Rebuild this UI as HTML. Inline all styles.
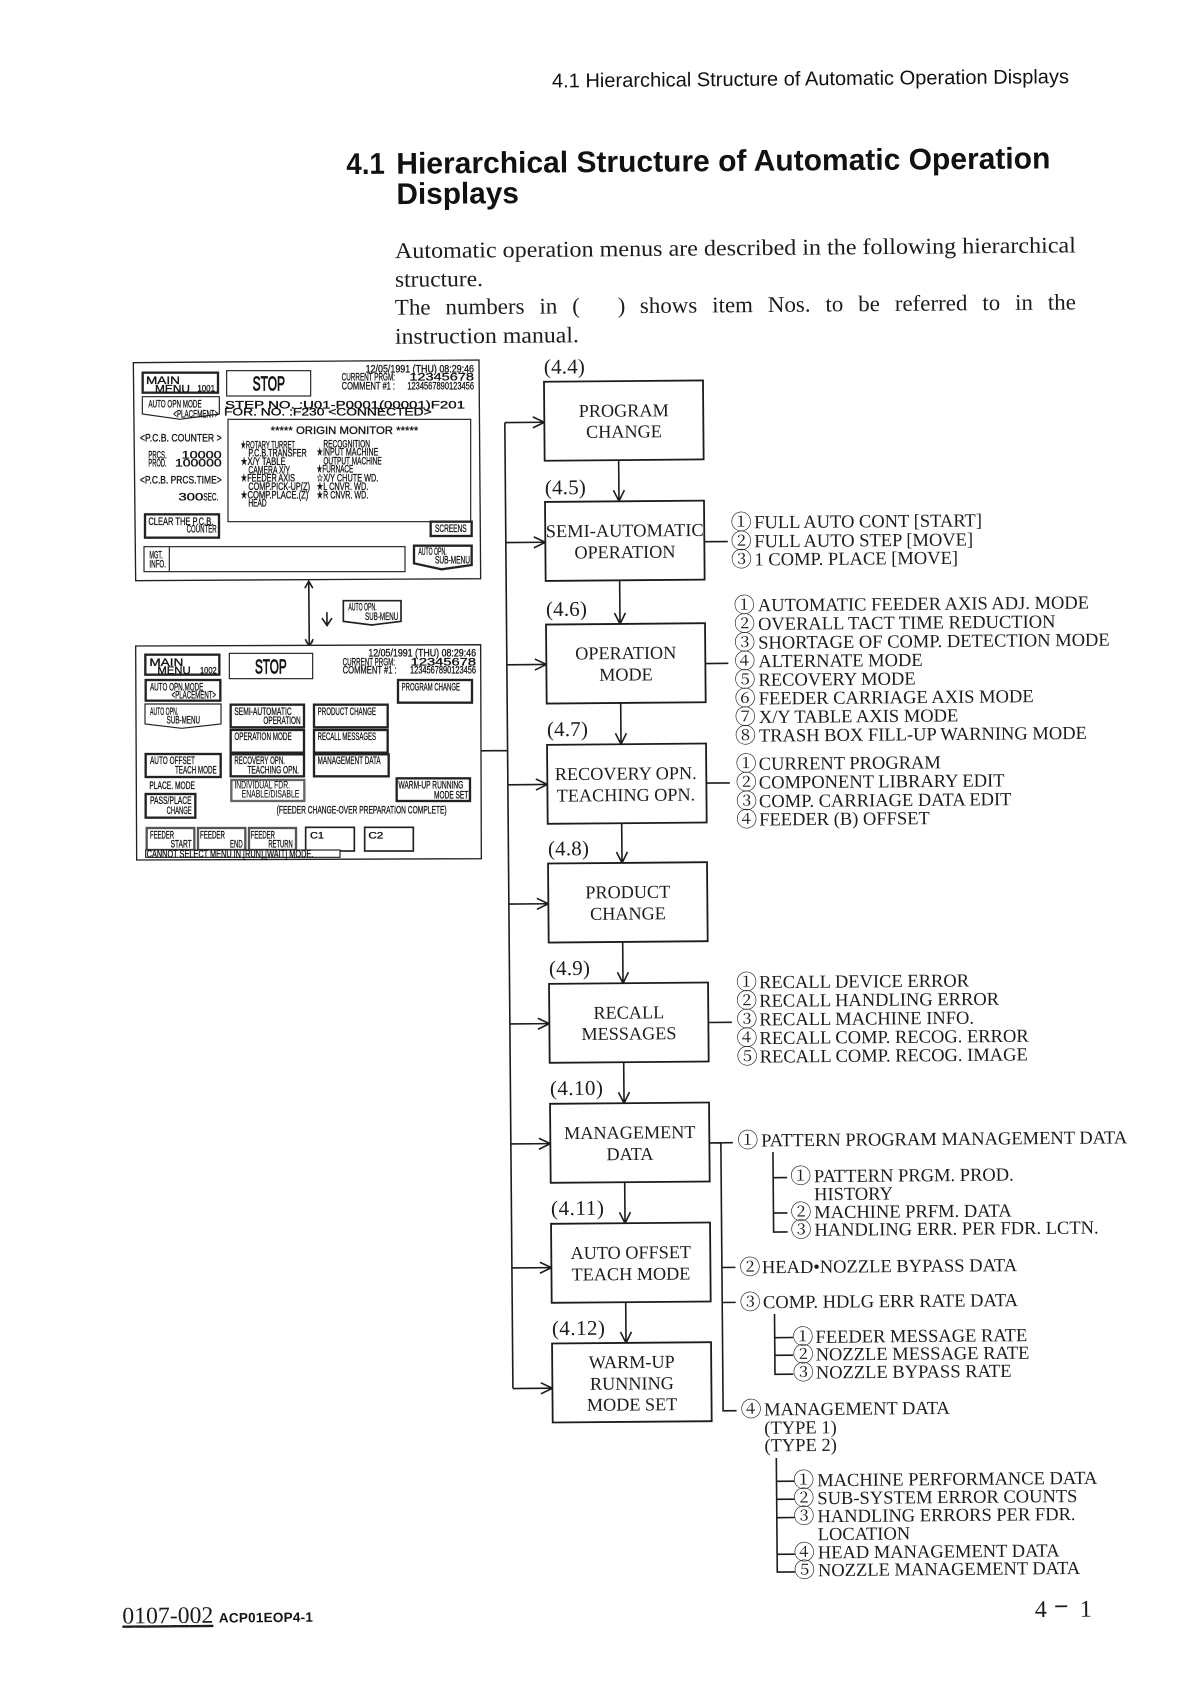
<!DOCTYPE html>
<html><head><meta charset="utf-8"><title>4.1 Hierarchical Structure of Automatic Operation Displays</title>
<style>
html,body{margin:0;padding:0;background:#fff}
svg{display:block}
.s{font-family:"Liberation Serif","Noto Serif CJK SC",serif;font-size:18.5px;fill:#1c1c1c}
.c{font-family:"Noto Serif CJK SC","Liberation Serif",serif;font-size:21px;fill:#1c1c1c;transform:translate(-1.5px,1px)}
.m{text-anchor:middle;font-size:18.2px}
.l{font-family:"Liberation Serif",serif;font-size:21px;fill:#1c1c1c}
.body{font-family:"Liberation Serif",serif;font-size:22.5px;fill:#1c1c1c}
.h{font-family:"Liberation Sans",sans-serif;fill:#111}
.ln{stroke:#1c1c1c;stroke-width:1.6;fill:none}
.box{stroke:#1c1c1c;stroke-width:1.8;fill:#fff}
.p{font-family:"Liberation Sans","DejaVu Sans",sans-serif;font-size:33px;fill:#111;stroke:#111;stroke-width:.9}
.w{font-size:27px}
.b{fill:#fff;stroke:#222;stroke-width:7}
.n{fill:#fff;stroke:#222;stroke-width:3.5}
</style></head><body>
<svg xmlns="http://www.w3.org/2000/svg" width="1190" height="1682" viewBox="0 0 1190 1682">
<rect width="1190" height="1682" fill="#fff"/>
<g transform="translate(0 .8) rotate(-0.48 600 800)">
<text class="h" x="558" y="86.3" font-size="20" textLength="517" lengthAdjust="spacingAndGlyphs">4.1 Hierarchical Structure of Automatic Operation Displays</text>
<text class="h" x="351.7" y="171.2" font-size="30" font-weight="bold" textLength="38.5" lengthAdjust="spacingAndGlyphs">4.1</text>
<text class="h" x="401.7" y="171.3" font-size="30" font-weight="bold" textLength="654" lengthAdjust="spacingAndGlyphs">Hierarchical Structure of Automatic Operation</text>
<text class="h" x="401.5" y="201.6" font-size="30" font-weight="bold" textLength="122.5" lengthAdjust="spacingAndGlyphs">Displays</text>
<text class="body" x="399.5" y="255.6" textLength="681" lengthAdjust="spacingAndGlyphs">Automatic operation menus are described in the following hierarchical</text>
<text class="body" x="399.3" y="284.3" textLength="88" lengthAdjust="spacingAndGlyphs">structure.</text>
<text class="body" style="word-spacing:9px" x="399" y="312.3" textLength="185" lengthAdjust="spacingAndGlyphs">The numbers in (</text>
<text class="body" x="622" y="312.4">)</text>
<text class="body" style="word-spacing:9px" x="644" y="312.6" textLength="436" lengthAdjust="spacingAndGlyphs">shows item Nos. to be referred to in the</text>
<text class="body" x="398.8" y="341.3" textLength="184" lengthAdjust="spacingAndGlyphs">instruction manual.</text>

<!-- trunk -->
<path class="ln" d="M481.4 749H508M508 421V1387M508 421H547M508 541H547M508 663.2H547M508 783.2H547M508 902.5H547M508 1022.4H547M508 1142.4H547M508 1266.4H547M508 1387H547"/>
<path class="ln" d="M536 415.5L547.5 421L536 426.5M536 535.5L547.5 541L536 546.5M536 657.7L547.5 663.2L536 668.7M536 777.7L547.5 783.2L536 788.7M536 897L547.5 902.5L536 908M536 1016.9L547.5 1022.4L536 1027.9M536 1136.9L547.5 1142.4L536 1147.9M536 1260.9L547.5 1266.4L536 1271.9M536 1381.5L547.5 1387L536 1392.5"/>
<!-- down arrows -->
<path class="ln" d="M621.5 459.5V500.5M616 489.5L621.5 500.5L627 489.5M621.5 579.7V623.3M616 612.3L621.5 623.3L627 612.3M621.5 702.3V743.6M616 732.6L621.5 743.6L627 732.6M621.5 822.6V862.3M616 851.3L621.5 862.3L627 851.3M621.5 941.3V982.6M616 971.6L621.5 982.6L627 971.6M621.5 1061.6V1102.6M616 1091.6L621.5 1102.6L627 1091.6M621.5 1181.6V1222.6M616 1211.6L621.5 1222.6L627 1211.6M621.5 1301.6V1342.3M616 1331.3L621.5 1342.3L627 1331.3"/>
<!-- boxes -->
<rect class="box" x="547.5" y="380.5" width="159" height="79"/>
<rect class="box" x="547.5" y="500.7" width="159" height="79"/>
<rect class="box" x="547.5" y="623.3" width="159" height="79"/>
<rect class="box" x="547.5" y="743.6" width="159" height="79"/>
<rect class="box" x="547.5" y="862.3" width="159" height="79"/>
<rect class="box" x="547.5" y="982.6" width="159" height="79"/>
<rect class="box" x="547.5" y="1102.6" width="159" height="79"/>
<rect class="box" x="547.5" y="1222.6" width="159" height="79"/>
<rect class="box" x="547.5" y="1342.3" width="159" height="79"/>
<g>
<text class="s m" x="627" y="416">PROGRAM</text><text class="s m" x="627" y="437">CHANGE</text>
<text class="s m" x="627" y="536" textLength="158" lengthAdjust="spacingAndGlyphs">SEMI-AUTOMATIC</text><text class="s m" x="627" y="557.5">OPERATION</text>
<text class="s m" x="627" y="658.5">OPERATION</text><text class="s m" x="627" y="680">MODE</text>
<text class="s m" x="626" y="779">RECOVERY OPN.</text><text class="s m" x="626" y="800.5">TEACHING OPN.</text>
<text class="s m" x="627" y="897.5">PRODUCT</text><text class="s m" x="627" y="919">CHANGE</text>
<text class="s m" x="627" y="1018">RECALL</text><text class="s m" x="627" y="1039">MESSAGES</text>
<text class="s m" x="627" y="1138">MANAGEMENT</text><text class="s m" x="627" y="1159.5">DATA</text>
<text class="s m" x="627" y="1258">AUTO OFFSET</text><text class="s m" x="627" y="1279.5">TEACH MODE</text>
<text class="s m" x="627" y="1367.5">WARM-UP</text><text class="s m" x="627" y="1389">RUNNING</text><text class="s m" x="627" y="1410">MODE SET</text>
</g>
<text class="l" x="547.5" y="372.5" textLength="41">(4.4)</text>
<text class="l" x="547.5" y="493.2" textLength="41">(4.5)</text>
<text class="l" x="547.5" y="614.8" textLength="41">(4.6)</text>
<text class="l" x="547.5" y="735" textLength="41">(4.7)</text>
<text class="l" x="547.5" y="854.3" textLength="41">(4.8)</text>
<text class="l" x="547.5" y="974" textLength="41">(4.9)</text>
<text class="l" x="547.5" y="1094" textLength="53">(4.10)</text>
<text class="l" x="547.5" y="1214" textLength="53">(4.11)</text>
<text class="l" x="547.5" y="1334" textLength="53">(4.12)</text>

<!-- side connectors -->
<path class="ln" d="M706.5 541.8H730M706.5 663.6H729.5M706.5 783.2H730M706.5 1022.6H730M706.5 1143H730M718 1143V1411H731.5M718 1267.7H731.5M718 1302.7H731.5M770 1152.7V1232.7H784M770 1178.3H784M770 1213.7H784M770.2 1314.5V1375H788.5M770.2 1338.3H788.5M770.2 1356H788.5M770.8 1458.6V1572.7H788.5M770.8 1482H788.5M770.8 1500H788.5M770.8 1518.3H788.5M770.8 1555H788.5"/>

<!-- lists -->
<text class="c" x="734.5" y="528.8">①</text><text class="s" x="756.5" y="528.8">FULL AUTO CONT [START]</text>
<text class="c" x="734.5" y="547.8">②</text><text class="s" x="756.5" y="547.8">FULL AUTO STEP [MOVE]</text>
<text class="c" x="734.5" y="566">③</text><text class="s" x="756.5" y="566">1 COMP. PLACE [MOVE]</text>

<text class="c" x="737" y="611.8">①</text><text class="s" x="759.5" y="611.8">AUTOMATIC FEEDER AXIS ADJ. MODE</text>
<text class="c" x="737" y="630.5">②</text><text class="s" x="759.5" y="630.5">OVERALL TACT TIME REDUCTION</text>
<text class="c" x="737" y="649.2">③</text><text class="s" x="759.5" y="649.2">SHORTAGE OF COMP. DETECTION MODE</text>
<text class="c" x="737" y="667.8">④</text><text class="s" x="759.5" y="667.8">ALTERNATE MODE</text>
<text class="c" x="737" y="686.4">⑤</text><text class="s" x="759.5" y="686.4">RECOVERY MODE</text>
<text class="c" x="737" y="705">⑥</text><text class="s" x="759.5" y="705">FEEDER CARRIAGE AXIS MODE</text>
<text class="c" x="737" y="723.6">⑦</text><text class="s" x="759.5" y="723.6">X/Y TABLE AXIS MODE</text>
<text class="c" x="737" y="742.2">⑧</text><text class="s" x="759.5" y="742.2">TRASH BOX FILL-UP WARNING MODE</text>

<text class="c" x="737.5" y="770.4">①</text><text class="s" x="759" y="770.4">CURRENT PROGRAM</text>
<text class="c" x="737.5" y="789">②</text><text class="s" x="759" y="789">COMPONENT LIBRARY EDIT</text>
<text class="c" x="737.5" y="807.8">③</text><text class="s" x="759" y="807.8">COMP. CARRIAGE DATA EDIT</text>
<text class="c" x="737.5" y="826.1">④</text><text class="s" x="759" y="826.1">FEEDER (B) OFFSET</text>

<text class="c" x="736" y="988.8">①</text><text class="s" x="757.5" y="988.8">RECALL DEVICE ERROR</text>
<text class="c" x="736" y="1007.4">②</text><text class="s" x="757.5" y="1007.4">RECALL HANDLING ERROR</text>
<text class="c" x="736" y="1026">③</text><text class="s" x="757.5" y="1026">RECALL MACHINE INFO.</text>
<text class="c" x="736" y="1044.6">④</text><text class="s" x="757.5" y="1044.6">RECALL COMP. RECOG. ERROR</text>
<text class="c" x="736" y="1063.2">⑤</text><text class="s" x="757.5" y="1063.2">RECALL COMP. RECOG. IMAGE</text>

<text class="c" x="736" y="1147">①</text><text class="s" x="758.3" y="1147">PATTERN PROGRAM MANAGEMENT DATA</text>
<text class="c" x="788.5" y="1183.2">①</text><text class="s" x="810.8" y="1183.2">PATTERN PRGM. PROD.</text>
<text class="s" x="810.8" y="1201.2">HISTORY</text>
<text class="c" x="788.5" y="1219.2">②</text><text class="s" x="810.8" y="1219.2">MACHINE PRFM. DATA</text>
<text class="c" x="788.5" y="1236.9">③</text><text class="s" x="810.8" y="1236.9">HANDLING ERR. PER FDR. LCTN.</text>
<text class="c" x="737" y="1273.8">②</text><text class="s" x="758" y="1273.8">HEAD•NOZZLE BYPASS DATA</text>
<text class="c" x="737" y="1308.8">③</text><text class="s" x="758.8" y="1308.8">COMP. HDLG ERR RATE DATA</text>
<text class="c" x="789.5" y="1343.9">①</text><text class="s" x="811" y="1343.9">FEEDER MESSAGE RATE</text>
<text class="c" x="789.5" y="1361.5">②</text><text class="s" x="811" y="1361.5">NOZZLE MESSAGE RATE</text>
<text class="c" x="789.5" y="1379.5">③</text><text class="s" x="811" y="1379.5">NOZZLE BYPASS RATE</text>
<text class="c" x="737" y="1416">④</text><text class="s" x="759" y="1416">MANAGEMENT DATA</text>
<text class="s" x="759" y="1434.4">(TYPE 1)</text>
<text class="s" x="759" y="1452">(TYPE 2)</text>
<text class="c" x="789" y="1487.2">①</text><text class="s" x="811.5" y="1487.2">MACHINE PERFORMANCE DATA</text>
<text class="c" x="789" y="1505.2">②</text><text class="s" x="811.5" y="1505.2">SUB-SYSTEM ERROR COUNTS</text>
<text class="c" x="789" y="1523.2">③</text><text class="s" x="811.5" y="1523.2">HANDLING ERRORS PER FDR.</text>
<text class="s" x="811.5" y="1541.2">LOCATION</text>
<text class="c" x="789" y="1559.5">④</text><text class="s" x="811.5" y="1559.5">HEAD MANAGEMENT DATA</text>
<text class="c" x="789" y="1577.2">⑤</text><text class="s" x="811.5" y="1577.2">NOZZLE MANAGEMENT DATA</text>

<text class="l" style="font-size:24px" x="1028" y="1620">4</text>
<text class="l" style="font-size:26px;font-weight:bold" x="1047" y="1618">−</text>
<text class="l" style="font-size:24px" x="1073" y="1620">1</text>

<text class="l" x="115.5" y="1618.7" style="font-size:23.7px;text-decoration:underline" textLength="91">0107-002</text>
<text class="h" x="212" y="1618.5" font-size="13.5" font-weight="bold" textLength="94">ACP01EOP4-1</text>

<!-- panel arrows -->
<path class="ln" d="M310.6 578V643M306.6 585L310.6 578L314.6 585M306.6 636L310.6 643L314.6 636"/>
<path class="ln" d="M328.5 609V622M323.5 615L328.5 622.5L333.5 615"/>
</g>

<!-- PANEL 1 -->
<g transform="translate(120 350) scale(.33333)">
<polygon points="40,38 1077,30 1082,686 47,692" fill="#fff" stroke="#222" stroke-width="4"/>
<rect class="b" x="68" y="68" width="226" height="60"/>
<text class="p" x="78" y="102" textLength="102" lengthAdjust="spacingAndGlyphs">MAIN</text>
<text class="p" x="105" y="128" textLength="105" lengthAdjust="spacingAndGlyphs">MENU</text>
<text class="p w" x="232" y="125" textLength="53" lengthAdjust="spacingAndGlyphs">1001</text>
<rect class="n" x="320" y="62" width="252" height="76"/>
<text class="p" x="398" y="122" style="font-size:60px;stroke-width:2.5" textLength="97" lengthAdjust="spacingAndGlyphs">STOP</text>
<text class="p" x="737" y="68" textLength="325" lengthAdjust="spacingAndGlyphs">12/05/1991 (THU) 08:29:46</text>
<text class="p" x="665" y="92" textLength="160" lengthAdjust="spacingAndGlyphs">CURRENT PRGM:</text>
<text class="p" x="868" y="92" textLength="194" lengthAdjust="spacingAndGlyphs">12345678</text>
<text class="p" x="665" y="118" textLength="160" lengthAdjust="spacingAndGlyphs">COMMENT #1 :</text>
<text class="p" x="862" y="118" textLength="200" lengthAdjust="spacingAndGlyphs">1234567890123456</text>
<polygon class="n" points="67,140 298,140 298,192 180,208 67,192"/>
<text class="p" x="85" y="172" textLength="160" lengthAdjust="spacingAndGlyphs">AUTO OPN MODE</text>
<text class="p" x="160" y="203" textLength="135" lengthAdjust="spacingAndGlyphs">&lt;PLACEMENT&gt;</text>
<text class="p" x="315" y="175" textLength="720" lengthAdjust="spacingAndGlyphs">STEP NO. :U01-P0001(00001)F201</text>
<text class="p" x="312" y="197" textLength="623" lengthAdjust="spacingAndGlyphs">FOR. NO. :F230 &lt;CONNECTED&gt;</text>
<rect class="n" x="324" y="208" width="728" height="307"/>
<text class="p" x="452" y="252" textLength="443" lengthAdjust="spacingAndGlyphs">***** ORIGIN MONITOR *****</text>
<text class="p" x="60" y="275" textLength="245" lengthAdjust="spacingAndGlyphs">&lt;P.C.B. COUNTER &gt;</text>
<text class="p" x="85" y="325" textLength="55" lengthAdjust="spacingAndGlyphs">PRCS.</text>
<text class="p" x="185" y="325" textLength="120" lengthAdjust="spacingAndGlyphs">10000</text>
<text class="p" x="85" y="350" textLength="55" lengthAdjust="spacingAndGlyphs">PROD.</text>
<text class="p" x="165" y="350" textLength="140" lengthAdjust="spacingAndGlyphs">100000</text>
<text class="p" x="60" y="400" textLength="245" lengthAdjust="spacingAndGlyphs">&lt;P.C.B. PRCS.TIME&gt;</text>
<text class="p" x="175" y="452" textLength="75" lengthAdjust="spacingAndGlyphs">300</text>
<text class="p" x="250" y="452" textLength="45" lengthAdjust="spacingAndGlyphs">SEC.</text>
<rect class="b" x="75" y="493" width="222" height="70"/>
<text class="p" x="85" y="525" textLength="195" lengthAdjust="spacingAndGlyphs">CLEAR THE P.C.B.</text>
<text class="p" x="200" y="548" textLength="90" lengthAdjust="spacingAndGlyphs">COUNTER</text>
<text class="p" x="362" y="295" textLength="163" lengthAdjust="spacingAndGlyphs">★ROTARY TURRET</text>
<text class="p" x="385" y="320" textLength="175" lengthAdjust="spacingAndGlyphs">P.C.B.TRANSFER</text>
<text class="p" x="362" y="345" textLength="135" lengthAdjust="spacingAndGlyphs">★X/Y TABLE</text>
<text class="p" x="385" y="370" textLength="125" lengthAdjust="spacingAndGlyphs">CAMERA X/Y</text>
<text class="p" x="362" y="395" textLength="163" lengthAdjust="spacingAndGlyphs">★FEEDER AXIS</text>
<text class="p" x="385" y="420" textLength="185" lengthAdjust="spacingAndGlyphs">COMP.PICK-UP(Z)</text>
<text class="p" x="362" y="445" textLength="203" lengthAdjust="spacingAndGlyphs">★COMP.PLACE.(Z)</text>
<text class="p" x="385" y="470" textLength="55" lengthAdjust="spacingAndGlyphs">HEAD</text>
<text class="p" x="610" y="292" textLength="140" lengthAdjust="spacingAndGlyphs">RECOGNITION</text>
<text class="p" x="590" y="316" textLength="185" lengthAdjust="spacingAndGlyphs">★INPUT MACHINE</text>
<text class="p" x="610" y="343" textLength="175" lengthAdjust="spacingAndGlyphs">OUTPUT MACHINE</text>
<text class="p" x="590" y="367" textLength="110" lengthAdjust="spacingAndGlyphs">★FURNACE</text>
<text class="p" x="590" y="395" textLength="185" lengthAdjust="spacingAndGlyphs">☆X/Y CHUTE WD.</text>
<text class="p" x="590" y="420" textLength="155" lengthAdjust="spacingAndGlyphs">★L CNVR. WD.</text>
<text class="p" x="590" y="445" textLength="155" lengthAdjust="spacingAndGlyphs">★R CNVR. WD.</text>
<rect class="b" x="932" y="515" width="123" height="43"/>
<text class="p" x="945" y="546" textLength="95" lengthAdjust="spacingAndGlyphs">SCREENS</text>
<rect class="n" x="72" y="590" width="783" height="75"/>
<path class="n" d="M148 590V665"/>
<text class="p" x="88" y="625" textLength="40" lengthAdjust="spacingAndGlyphs">MGT.</text>
<text class="p" x="88" y="652" textLength="50" lengthAdjust="spacingAndGlyphs">INFO.</text>
<polygon class="b" points="882,587 1055,587 1055,645 965,658 882,640"/>
<text class="p" x="895" y="615" textLength="85" lengthAdjust="spacingAndGlyphs">AUTO OPN.</text>
<text class="p" x="945" y="640" textLength="105" lengthAdjust="spacingAndGlyphs">SUB-MENU</text>
</g>

<!-- small submenu button + PANEL 2 -->
<g transform="translate(120 590) scale(.33333)">
<polygon class="b" points="670,32 843,32 843,94 755,105 670,94" style="stroke-width:5"/>
<text class="p" x="685" y="62" textLength="85" lengthAdjust="spacingAndGlyphs">AUTO OPN.</text>
<text class="p" x="735" y="90" textLength="100" lengthAdjust="spacingAndGlyphs">SUB-MENU</text>

<polygon points="47,168 1082,164 1084,806 50,810" fill="#fff" stroke="#222" stroke-width="4"/>
<path d="M568 150V165M558 155L568 165L578 155" stroke="#222" stroke-width="4" fill="none"/>
<rect class="b" x="76" y="194" width="222" height="60"/>
<text class="p" x="88" y="228" textLength="102" lengthAdjust="spacingAndGlyphs">MAIN</text>
<text class="p" x="112" y="252" textLength="100" lengthAdjust="spacingAndGlyphs">MENU</text>
<text class="p w" x="240" y="250" textLength="50" lengthAdjust="spacingAndGlyphs">1002</text>
<rect class="n" x="328" y="190" width="250" height="76"/>
<text class="p" style="font-size:60px;stroke-width:2.5" x="405" y="250" textLength="95" lengthAdjust="spacingAndGlyphs">STOP</text>
<text class="p" x="745" y="200" textLength="323" lengthAdjust="spacingAndGlyphs">12/05/1991 (THU) 08:29:46</text>
<text class="p" x="668" y="227" textLength="157" lengthAdjust="spacingAndGlyphs">CURRENT PRGM:</text>
<text class="p" x="872" y="227" textLength="196" lengthAdjust="spacingAndGlyphs">12345678</text>
<text class="p" x="668" y="250" textLength="162" lengthAdjust="spacingAndGlyphs">COMMENT #1 :</text>
<text class="p" x="870" y="250" textLength="198" lengthAdjust="spacingAndGlyphs">1234567890123456</text>
<rect class="b" x="77" y="270" width="224" height="62"/>
<text class="p" x="90" y="302" textLength="160" lengthAdjust="spacingAndGlyphs">AUTO OPN.MODE</text>
<text class="p" x="155" y="326" textLength="133" lengthAdjust="spacingAndGlyphs">&lt;PLACEMENT&gt;</text>
<rect class="b" x="834" y="270" width="222" height="68"/>
<text class="p" x="845" y="302" textLength="175" lengthAdjust="spacingAndGlyphs">PROGRAM CHANGE</text>
<polygon class="n" points="75,342 303,342 303,402 185,415 75,402"/>
<text class="p" x="90" y="375" textLength="85" lengthAdjust="spacingAndGlyphs">AUTO OPN.</text>
<text class="p" x="140" y="400" textLength="100" lengthAdjust="spacingAndGlyphs">SUB-MENU</text>
<rect class="b" x="332" y="344" width="220" height="68"/>
<text class="p" x="343" y="375" textLength="172" lengthAdjust="spacingAndGlyphs">SEMI-AUTOMATIC</text>
<text class="p" x="430" y="402" textLength="112" lengthAdjust="spacingAndGlyphs">OPERATION</text>
<rect class="b" x="332" y="420" width="220" height="68"/>
<text class="p" x="343" y="450" textLength="172" lengthAdjust="spacingAndGlyphs">OPERATION MODE</text>
<rect class="b" x="332" y="493" width="220" height="66"/>
<text class="p" x="343" y="522" textLength="152" lengthAdjust="spacingAndGlyphs">RECOVERY OPN.</text>
<text class="p" x="382" y="550" textLength="155" lengthAdjust="spacingAndGlyphs">TEACHING OPN.</text>
<rect class="b" x="334" y="570" width="219" height="63" style="stroke:#666"/>
<text class="p" style="stroke-width:.3" x="343" y="595" textLength="167" lengthAdjust="spacingAndGlyphs">INDIVIDUAL FDR.</text>
<text class="p" style="stroke-width:.3" x="365" y="623" textLength="173" lengthAdjust="spacingAndGlyphs">ENABLE/DISABLE</text>
<rect class="b" x="582" y="344" width="221" height="68"/>
<text class="p" x="593" y="375" textLength="175" lengthAdjust="spacingAndGlyphs">PRODUCT CHANGE</text>
<rect class="b" x="582" y="420" width="221" height="68"/>
<text class="p" x="593" y="450" textLength="175" lengthAdjust="spacingAndGlyphs">RECALL MESSAGES</text>
<rect class="b" x="582" y="493" width="224" height="66"/>
<text class="p" x="593" y="522" textLength="189" lengthAdjust="spacingAndGlyphs">MANAGEMENT DATA</text>
<rect class="b" x="77" y="492" width="225" height="69"/>
<text class="p" x="90" y="522" textLength="135" lengthAdjust="spacingAndGlyphs">AUTO OFFSET</text>
<text class="p" x="165" y="550" textLength="125" lengthAdjust="spacingAndGlyphs">TEACH MODE</text>
<text class="p" x="88" y="597" textLength="137" lengthAdjust="spacingAndGlyphs">PLACE. MODE</text>
<rect class="b" x="77" y="612" width="149" height="71"/>
<text class="p" x="90" y="642" textLength="125" lengthAdjust="spacingAndGlyphs">PASS/PLACE</text>
<text class="p" x="140" y="672" textLength="75" lengthAdjust="spacingAndGlyphs">CHANGE</text>
<rect class="b" x="830" y="565" width="220" height="68"/>
<text class="p" x="835" y="595" textLength="195" lengthAdjust="spacingAndGlyphs">WARM-UP RUNNING</text>
<text class="p" x="942" y="625" textLength="103" lengthAdjust="spacingAndGlyphs">MODE SET</text>
<text class="p" x="470" y="670" textLength="510" lengthAdjust="spacingAndGlyphs">(FEEDER CHANGE-OVER PREPARATION COMPLETE)</text>
<rect class="b" x="80" y="714" width="143" height="66" style="stroke:#555"/>
<text class="p" x="90" y="745" textLength="72" lengthAdjust="spacingAndGlyphs">FEEDER</text>
<text class="p" x="152" y="773" textLength="63" lengthAdjust="spacingAndGlyphs">START</text>
<rect class="b" x="234" y="714" width="142" height="66" style="stroke:#555"/>
<text class="p" x="240" y="745" textLength="75" lengthAdjust="spacingAndGlyphs">FEEDER</text>
<text class="p" x="330" y="773" textLength="38" lengthAdjust="spacingAndGlyphs">END</text>
<rect class="b" x="387" y="714" width="141" height="66" style="stroke:#555"/>
<text class="p" x="392" y="745" textLength="73" lengthAdjust="spacingAndGlyphs">FEEDER</text>
<text class="p" x="445" y="773" textLength="73" lengthAdjust="spacingAndGlyphs">RETURN</text>
<rect class="b" x="557" y="712" width="146" height="71" style="stroke-width:5"/>
<text class="p w" x="570" y="745" textLength="42" lengthAdjust="spacingAndGlyphs">C1</text>
<rect class="b" x="734" y="712" width="146" height="71" style="stroke-width:5"/>
<text class="p w" x="745" y="745" textLength="45" lengthAdjust="spacingAndGlyphs">C2</text>
<rect class="n" x="77" y="780" width="583" height="22"/>
<text class="p" x="80" y="803" textLength="500" lengthAdjust="spacingAndGlyphs">CANNOT SELECT MENU IN [RUN],[WAIT] MODE.</text>
</g>
</svg>
</body></html>
